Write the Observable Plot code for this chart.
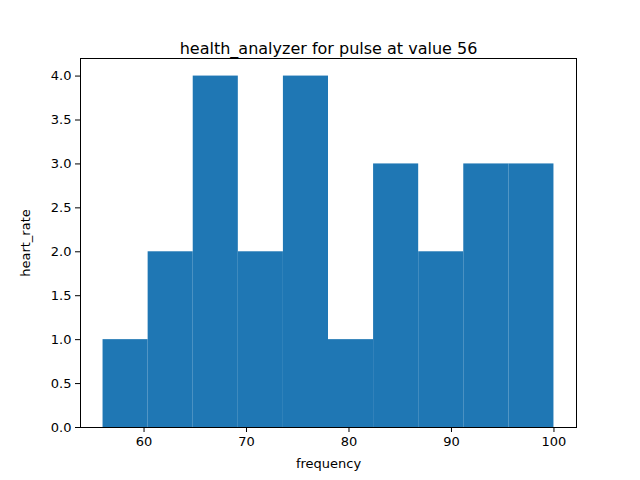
<!DOCTYPE html>
<html>
<head>
<meta charset="utf-8">
<script src="https://cdn.jsdelivr.net/npm/d3@7"></script>
<script src="https://cdn.jsdelivr.net/npm/@observablehq/plot@0.6"></script>
<style>
  body { margin: 0; background: #fff; }
  #chart { width: 640px; height: 480px; }
</style>
</head>
<body>
<div id="chart"></div>
<script>
var binStarts = [56, 60.4, 64.8, 69.2, 73.6, 78, 82.4, 86.8, 91.2, 95.6];
var binEnds = [60.4, 64.8, 69.2, 73.6, 78, 82.4, 86.8, 91.2, 95.6, 100];
var counts = [1, 2, 4, 2, 4, 1, 3, 2, 3, 3];
var xTicks = [60, 70, 80, 90, 100];
var yTicks = [0, 0.5, 1, 1.5, 2, 2.5, 3, 3.5, 4];

var bins = counts.map(function (c, i) { return { x1: binStarts[i], x2: binEnds[i], n: c }; });

var chart = Plot.plot({
  width: 640,
  height: 480,
  marginLeft: 80,
  marginRight: 64,
  marginTop: 58,
  marginBottom: 53,
  style: { fontFamily: 'DejaVu Sans', fontSize: '13px', color: '#000', background: '#fff' },
  x: { domain: [53.8, 102.2], ticks: xTicks, tickSize: 5, tickPadding: 4, label: 'frequency', labelAnchor: 'center', labelArrow: 'none', labelOffset: 40 },
  y: { domain: [0, 4.2], ticks: yTicks, tickFormat: d3.format('.1f'), tickSize: 5, tickPadding: 4, label: 'heart_rate', labelAnchor: 'center', labelArrow: 'none', labelOffset: 60 },
  marks: [
    Plot.rectY(bins, { x1: 'x1', x2: 'x2', y: 'n', fill: '#1f77b4', inset: 0 }),
    Plot.frame({ stroke: '#000', strokeWidth: 1 }),
    Plot.text(['health_analyzer for pulse at value 56'], { frameAnchor: 'top', dy: -16, fontSize: 16, fill: '#000' })
  ]
});
document.getElementById('chart').appendChild(chart);
</script>
</body>
</html>
